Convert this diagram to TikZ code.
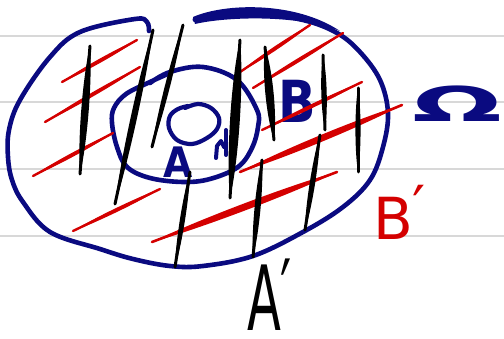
\documentclass[tikz,border=0pt]{standalone}
\usepackage{fontspec}
\setmainfont{DejaVu Sans}
\usetikzlibrary{calc}
\definecolor{ink}{RGB}{10,10,128}
\definecolor{redink}{RGB}{212,0,0}
\definecolor{rulegray}{RGB}{216,216,216}
\newcommand{\hstroke}[5]{% color, P, Q, halfwidth, base width
  \draw[#1, line width=#5, line cap=round] #2 -- #3;
  \fill[#1] #2 .. controls ($#2!0.25!#3!#4!90:#3$) and ($#2!0.75!#3!#4!90:#3$) .. #3
     .. controls ($#2!0.75!#3!#4!-90:#3$) and ($#2!0.25!#3!#4!-90:#3$) .. #2 -- cycle;}
\tikzset{
  inkline/.style={ink, line width=4.6pt, line cap=round, line join=round},
  ruleline/.style={rulegray, line width=1.5pt},
  lbl/.style={inner sep=0pt, outer sep=0pt}
}
\begin{document}
\begin{tikzpicture}[x=1pt,y=-1pt]
\useasboundingbox (0,0) rectangle (504,339);
\fill[white] (0,0) rectangle (504,339);
% ruled lines
\foreach \yy in {36,102,169,236} \draw[ruleline] (0,\yy) -- (504,\yy);
% outer region
\draw[inkline] plot[smooth, tension=0.6] coordinates {(149,31) (147,22) (135,19) (80,32) (50,57) (20,100) (9,130) (8,157) (12,180) (23,202) (50,232) (100,249) (133,259) (170,266) (203,266) (253,256) (303,232) (343,207) (370,180) (383,147) (388,113) (380,80) (360,52) (337,33) (303,20) (250,12) (196,19)};
\fill[ink] (193,17) .. controls (225,3) and (295,1) .. (340,31) .. controls (295,14) and (225,17) .. (195,24) -- cycle;
\draw[ink, line width=5pt, line cap=round] (195,20) -- (197,20);
% inner region
\draw[inkline] plot[smooth, tension=0.6] coordinates {(150,83) (170,72) (203,67) (237,80) (257,110) (258,127) (252,148) (238,167) (210,179) (183,182) (150,178) (127,167) (117,147) (112,123) (114,108) (126,94) (150,82) (170,73)};
% small circle
\draw[inkline, line width=4.2pt] plot[smooth, tension=0.6] coordinates {(185,108) (198,104) (211,108) (219,118) (217,129) (207,138) (192,144) (177,140) (169,128) (170,116) (178,109) (188,106)};
\draw[inkline, line width=4pt] (216,158) -- (217,146) -- (221,141) -- (224,147);
\draw[inkline, line width=4pt] (226,130) -- (226,155);
% labels in navy
\node[lbl, ink, font=\fontsize{42}{42}\selectfont\bfseries, xscale=0.9] (a) at (178,162) {A};
\node[lbl, ink, font=\fontsize{58}{58}\selectfont\bfseries, xscale=0.85] (b) at (297,101) {B};
\node[lbl, ink, font=\fontsize{48}{48}\selectfont\bfseries, xscale=2.2] (omega) at (457,104) {Ω};
% red hatching
\hstroke{redink}{(62,82)}{(137,40)}{2.6pt}{2.4pt}
\hstroke{redink}{(45,122)}{(140,67)}{2.6pt}{2.4pt}
\hstroke{redink}{(33,176)}{(113,133)}{2.6pt}{2.4pt}
\hstroke{redink}{(73,231)}{(160,189)}{2.6pt}{2.4pt}
\hstroke{redink}{(152,242)}{(337,172)}{4.6pt}{2.6pt}
\hstroke{redink}{(240,172)}{(402,105)}{4.4pt}{2.6pt}
\hstroke{redink}{(262,130)}{(362,82)}{2.6pt}{2.4pt}
\hstroke{redink}{(253,88)}{(343,33)}{2.6pt}{2.4pt}
\hstroke{redink}{(240,72)}{(310,25)}{2.6pt}{2.4pt}
% black hatching
\hstroke{black}{(90,46)}{(80,174)}{5pt}{3pt}
\hstroke{black}{(153,30)}{(115,204)}{4.2pt}{3pt}
\hstroke{black}{(183,25)}{(152,147)}{3.4pt}{3pt}
\hstroke{black}{(190,172)}{(175,267)}{3.4pt}{3pt}
\hstroke{black}{(240,40)}{(230,198)}{6.5pt}{3pt}
\hstroke{black}{(265,47)}{(274,140)}{5.5pt}{3pt}
\hstroke{black}{(262,160)}{(253,257)}{4pt}{3pt}
\hstroke{black}{(323,55)}{(325,130)}{3.6pt}{3pt}
\hstroke{black}{(320,135)}{(305,230)}{3.6pt}{3pt}
\hstroke{black}{(358,88)}{(358,172)}{3.4pt}{3pt}
% outer labels
\node[lbl, redink, font=\fontsize{58}{58}\selectfont, anchor=base west] (bp) at (373,240) {B\raisebox{12pt}{′}};
\node[lbl, black, font=\fontsize{90}{90}\selectfont, xscale=0.55, anchor=base west] (ap) at (247,331) {A\raisebox{6pt}{′}};
\end{tikzpicture}
\end{document}
